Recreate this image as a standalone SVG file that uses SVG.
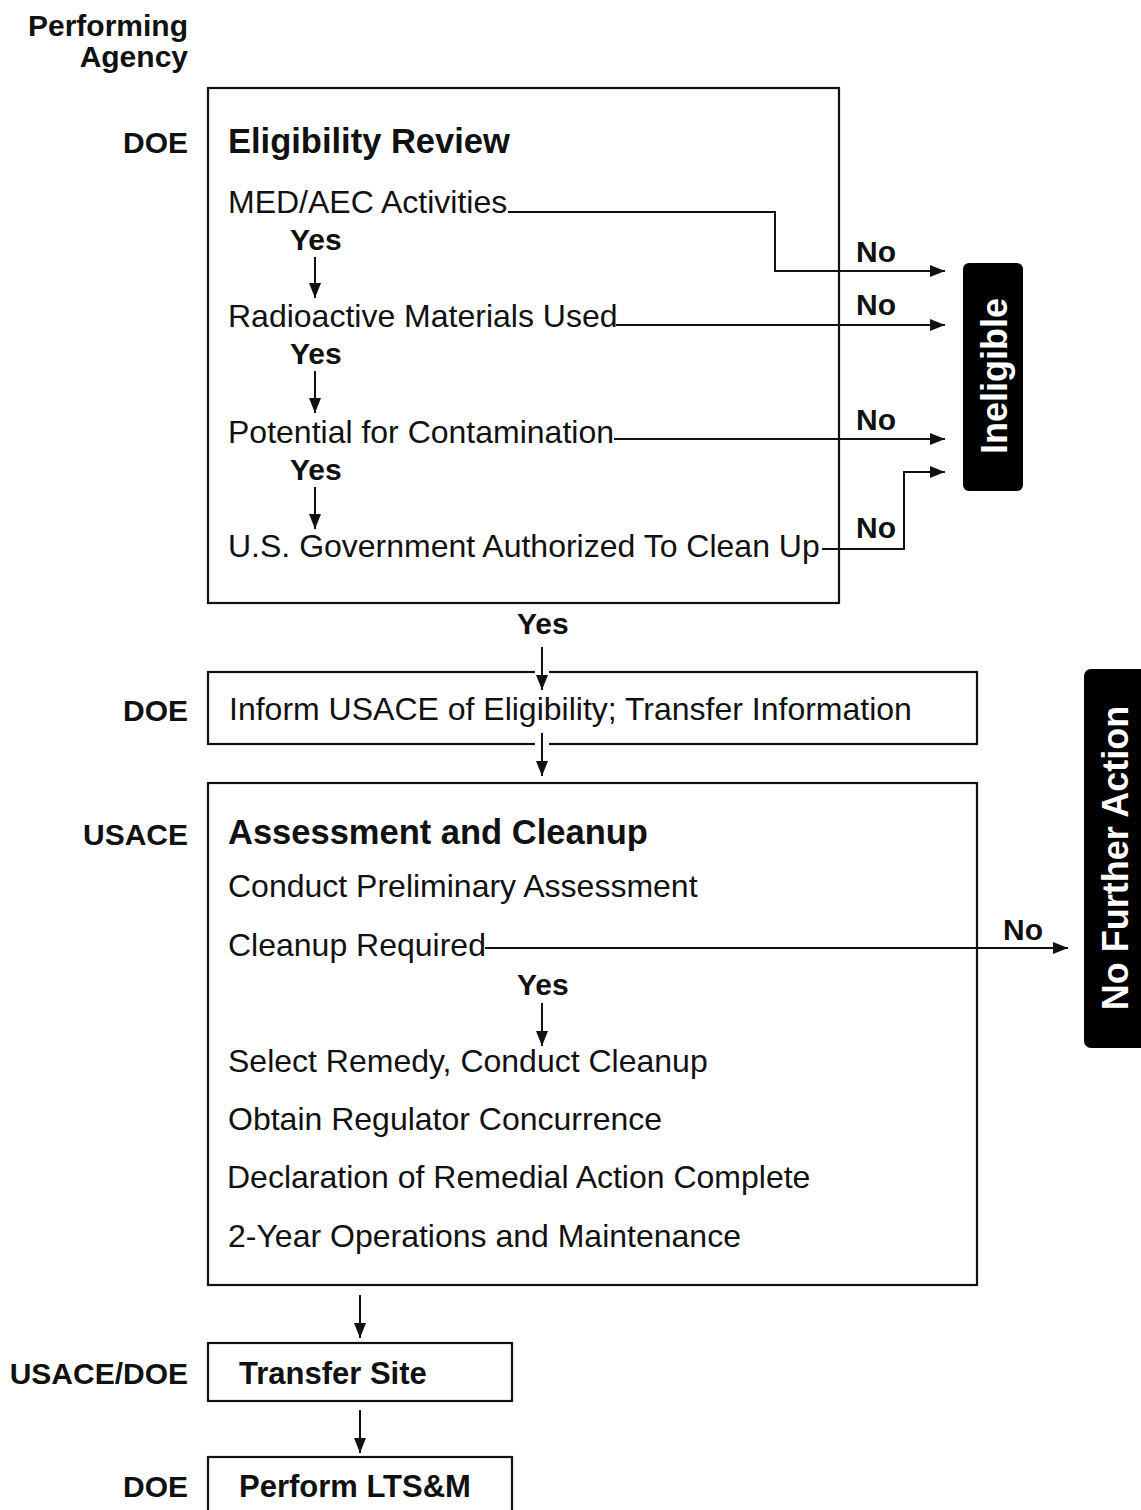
<svg xmlns="http://www.w3.org/2000/svg" width="1141" height="1510" viewBox="0 0 1141 1510">
<style>
.box{fill:#fff;stroke:#111;stroke-width:2.2}
.blk{fill:#000}
.t{font-family:"Liberation Sans",Arial,sans-serif;font-size:32px;fill:#111}
.h{font-family:"Liberation Sans",Arial,sans-serif;font-size:34.5px;font-weight:bold;fill:#111}
.lb{font-family:"Liberation Sans",Arial,sans-serif;font-size:30px;font-weight:bold;fill:#111}
.ag{font-family:"Liberation Sans",Arial,sans-serif;font-size:30px;font-weight:bold;fill:#111;text-anchor:end}
.wt{font-family:"Liberation Sans",Arial,sans-serif;font-size:36px;font-weight:bold;fill:#fff;text-anchor:middle}
.ln{fill:none;stroke:#111;stroke-width:2}
</style>
<defs>
<marker id="ah" markerWidth="15" markerHeight="12" refX="15" refY="6" orient="auto" markerUnits="userSpaceOnUse">
<path d="M0,0 L15,6 L0,12 Z" fill="#111"/>
</marker>
</defs>
<rect width="1141" height="1510" fill="#fff"/>

<g id="agency-labels">
<text class="ag" x="188" y="36">Performing</text>
<text class="ag" x="188" y="67">Agency</text>
<text class="ag" x="188" y="153">DOE</text>
<text class="ag" x="188" y="721">DOE</text>
<text class="ag" x="188" y="845">USACE</text>
<text class="ag" x="188" y="1384">USACE/DOE</text>
<text class="ag" x="188" y="1497">DOE</text>
</g>

<g id="eligibility-review">
<rect class="box" x="208" y="88" width="631" height="515"/>
<text class="h" x="228" y="153">Eligibility Review</text>
<text class="t" x="228" y="213">MED/AEC Activities</text>
<text class="t" x="228" y="327">Radioactive Materials Used</text>
<text class="t" x="228" y="443">Potential for Contamination</text>
<text class="t" x="228" y="557">U.S. Government Authorized To Clean Up</text>
</g>

<g id="inform-usace">
<rect class="box" x="208" y="672" width="769" height="72"/>
<text class="t" x="229" y="720">Inform USACE of Eligibility; Transfer Information</text>
</g>

<g id="assessment-cleanup">
<rect class="box" x="208" y="783" width="769" height="502"/>
<text class="h" x="228" y="844">Assessment and Cleanup</text>
<text class="t" x="228" y="897">Conduct Preliminary Assessment</text>
<text class="t" x="228" y="956">Cleanup Required</text>
<text class="t" x="228" y="1072">Select Remedy, Conduct Cleanup</text>
<text class="t" x="228" y="1130">Obtain Regulator Concurrence</text>
<text class="t" x="227" y="1188">Declaration of Remedial Action Complete</text>
<text class="t" x="228" y="1247">2-Year Operations and Maintenance</text>
</g>

<g id="transfer-site">
<rect class="box" x="208" y="1343" width="304" height="58"/>
<text class="lb" x="239" y="1384" style="font-size:31px">Transfer Site</text>
</g>

<g id="perform-ltsm">
<rect class="box" x="208" y="1457" width="304" height="80"/>
<text class="lb" x="239" y="1497" style="font-size:31px">Perform LTS&amp;M</text>
</g>

<g id="ineligible">
<rect class="blk" x="963" y="263" width="60" height="228" rx="6"/>
<text class="wt" transform="translate(1007,376) rotate(-90)">Ineligible</text>
</g>

<g id="no-further-action">
<rect class="blk" x="1084" y="669" width="80" height="379" rx="7"/>
<text class="wt" transform="translate(1128,858) rotate(-90)">No Further Action</text>
</g>

<g id="connectors">
<rect x="535" y="668" width="14" height="8" fill="#fff"/>
<rect x="535" y="740" width="14" height="8" fill="#fff"/>
<path class="ln" d="M508,212 H775 V271 H945" marker-end="url(#ah)"/>
<path class="ln" d="M616,325 H945" marker-end="url(#ah)"/>
<path class="ln" d="M614,439 H945" marker-end="url(#ah)"/>
<path class="ln" d="M822,549 H904 V472 H945" marker-end="url(#ah)"/>
<path class="ln" d="M485,948 H1068" marker-end="url(#ah)"/>
<path class="ln" d="M315,257 V298" marker-end="url(#ah)"/>
<path class="ln" d="M315,371 V413" marker-end="url(#ah)"/>
<path class="ln" d="M315,487 V529" marker-end="url(#ah)"/>
<path class="ln" d="M542,647 V690" marker-end="url(#ah)"/>
<path class="ln" d="M542,733 V776" marker-end="url(#ah)"/>
<path class="ln" d="M542,1003 V1046" marker-end="url(#ah)"/>
<path class="ln" d="M360,1295 V1338" marker-end="url(#ah)"/>
<path class="ln" d="M360,1410 V1453" marker-end="url(#ah)"/>
<text class="lb" x="856" y="262">No</text>
<text class="lb" x="856" y="315">No</text>
<text class="lb" x="856" y="430">No</text>
<text class="lb" x="856" y="538">No</text>
<text class="lb" x="1003" y="940">No</text>
<text class="lb" x="290" y="250">Yes</text>
<text class="lb" x="290" y="364">Yes</text>
<text class="lb" x="290" y="480">Yes</text>
<text class="lb" x="517" y="634">Yes</text>
<text class="lb" x="517" y="995">Yes</text>
</g>
</svg>
